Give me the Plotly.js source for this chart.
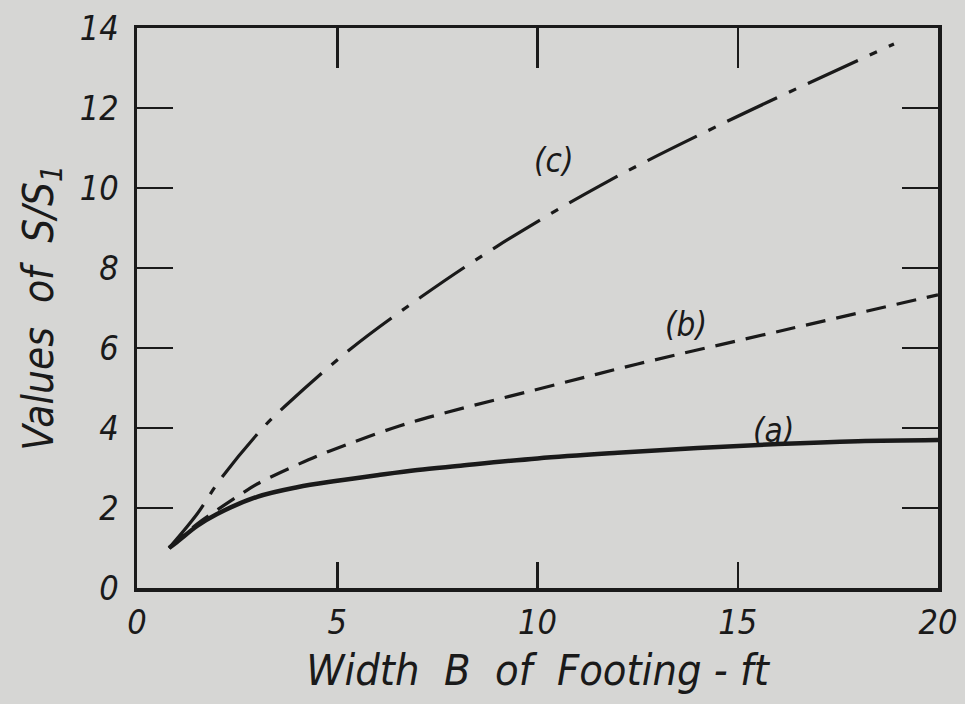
<!DOCTYPE html>
<html>
<head>
<meta charset="utf-8">
<script src="https://cdn.plot.ly/plotly-3.0.1.min.js"></script>
<style>html,body{margin:0;padding:0;background:rgb(214,214,212);}#chart{width:965px;height:704px;}</style>
</head>
<body>
<div id="chart"></div>
<script>
// Curve (a): solid
var xA = [0.8, 1.0, 1.5, 2.0, 3.0, 4.0, 5.0, 6.0, 7.0, 8.0, 10.0, 12.0, 14.0, 16.0, 18.0, 20.0];
var yA = [1.0, 1.15, 1.55, 1.85, 2.28, 2.52, 2.68, 2.82, 2.95, 3.05, 3.24, 3.38, 3.5, 3.6, 3.67, 3.7];
// Curve (b): dashed
var xB = [0.8, 1.5, 2.0, 2.57, 3.0, 4.0, 4.8, 6.55, 7.7, 10.6, 12.5, 16.3, 20.0];
var yB = [1.0, 1.6, 1.95, 2.33, 2.6, 3.08, 3.42, 4.05, 4.38, 5.12, 5.6, 6.48, 7.33];
// Curve (c): dash-dot
var xC = [0.8, 1.5, 2.07, 3.14, 3.7, 5.3, 7.1, 8.97, 11.6, 14.6, 18.9];
var yC = [1.0, 1.85, 2.7, 4.0, 4.55, 5.95, 7.28, 8.53, 10.08, 11.6, 13.6];

var xTicks = [0, 5, 10, 15, 20];
var xTickText = ['0', '5', '10', '15', '20'];
var yTicks = [0, 2, 4, 6, 8, 10, 12, 14];
var yTickText = ['0', '2', '4', '6', '8', '10', '12', '14'];

var labels = ['(a)', '(b)', '(c)'];
var labelX = [15.9, 13.7, 10.4];
var labelY = [3.95, 6.6, 10.7];

var fnt = 'DejaVu Sans Condensed, DejaVu Sans, sans-serif';
var ink = '#1a1a1a';

var traces = [
  {x: xA, y: yA, mode: 'lines', line: {color: ink, width: 4.5, shape: 'spline', smoothing: 1}, hoverinfo: 'skip'},
  {x: xB, y: yB, mode: 'lines', line: {color: ink, width: 3.2, shape: 'spline', smoothing: 1, dash: '20px,11px'}, hoverinfo: 'skip'},
  {x: xC, y: yC, mode: 'lines', line: {color: ink, width: 3.2, shape: 'spline', smoothing: 1, dash: '55px,13px,8px,13px'}, hoverinfo: 'skip'},
  {x: [0, 20], y: [0, 0], xaxis: 'x2', mode: 'lines', line: {width: 0}, hoverinfo: 'skip', showlegend: false}
];

var annotations = labels.map(function (t, i) {
  return {x: labelX[i], y: labelY[i], text: t, showarrow: false, xref: 'x', yref: 'y',
    font: {family: fnt, size: 33, color: ink, style: 'italic'}};
});

var layout = {
  width: 965, height: 704,
  margin: {l: 137, r: 27, t: 28, b: 116},
  paper_bgcolor: 'rgb(214,214,212)',
  plot_bgcolor: 'rgb(214,214,212)',
  showlegend: false,
  xaxis: {
    range: [0, 20], tickvals: xTicks, ticktext: xTickText,
    ticks: 'inside', ticklen: 26, tickwidth: 2.5, tickcolor: ink,
    showline: true, linecolor: ink, linewidth: 3.5, mirror: true,
    showgrid: false, zeroline: false,
    tickfont: {family: fnt, size: 34, color: ink, style: 'italic'},
    ticklabelstandoff: 2,
    title: {text: 'Width  B  of  Footing - ft', font: {family: fnt, size: 43, color: ink, style: 'italic'}, standoff: 14}
  },
  xaxis2: {
    range: [0, 20], overlaying: 'x', side: 'top', tickvals: [5, 10, 15],
    ticks: 'inside', ticklen: 40, tickwidth: 2.5, tickcolor: ink,
    showticklabels: false, showgrid: false, zeroline: false, showline: false
  },
  yaxis: {
    range: [0, 14], tickvals: yTicks, ticktext: yTickText,
    ticks: 'inside', ticklen: 36, tickwidth: 2.5, tickcolor: ink,
    showline: true, linecolor: ink, linewidth: 3.5, mirror: 'ticks',
    showgrid: false, zeroline: false,
    tickfont: {family: fnt, size: 34, color: ink, style: 'italic'},
    ticklabelstandoff: 8,
    title: {text: 'Values  of  S/S<sub>1</sub>', font: {family: fnt, size: 42, color: ink, style: 'italic'}, standoff: 14}
  },
  annotations: annotations
};

Plotly.newPlot('chart', traces, layout, {staticPlot: true, displayModeBar: false});
</script>
</body>
</html>
